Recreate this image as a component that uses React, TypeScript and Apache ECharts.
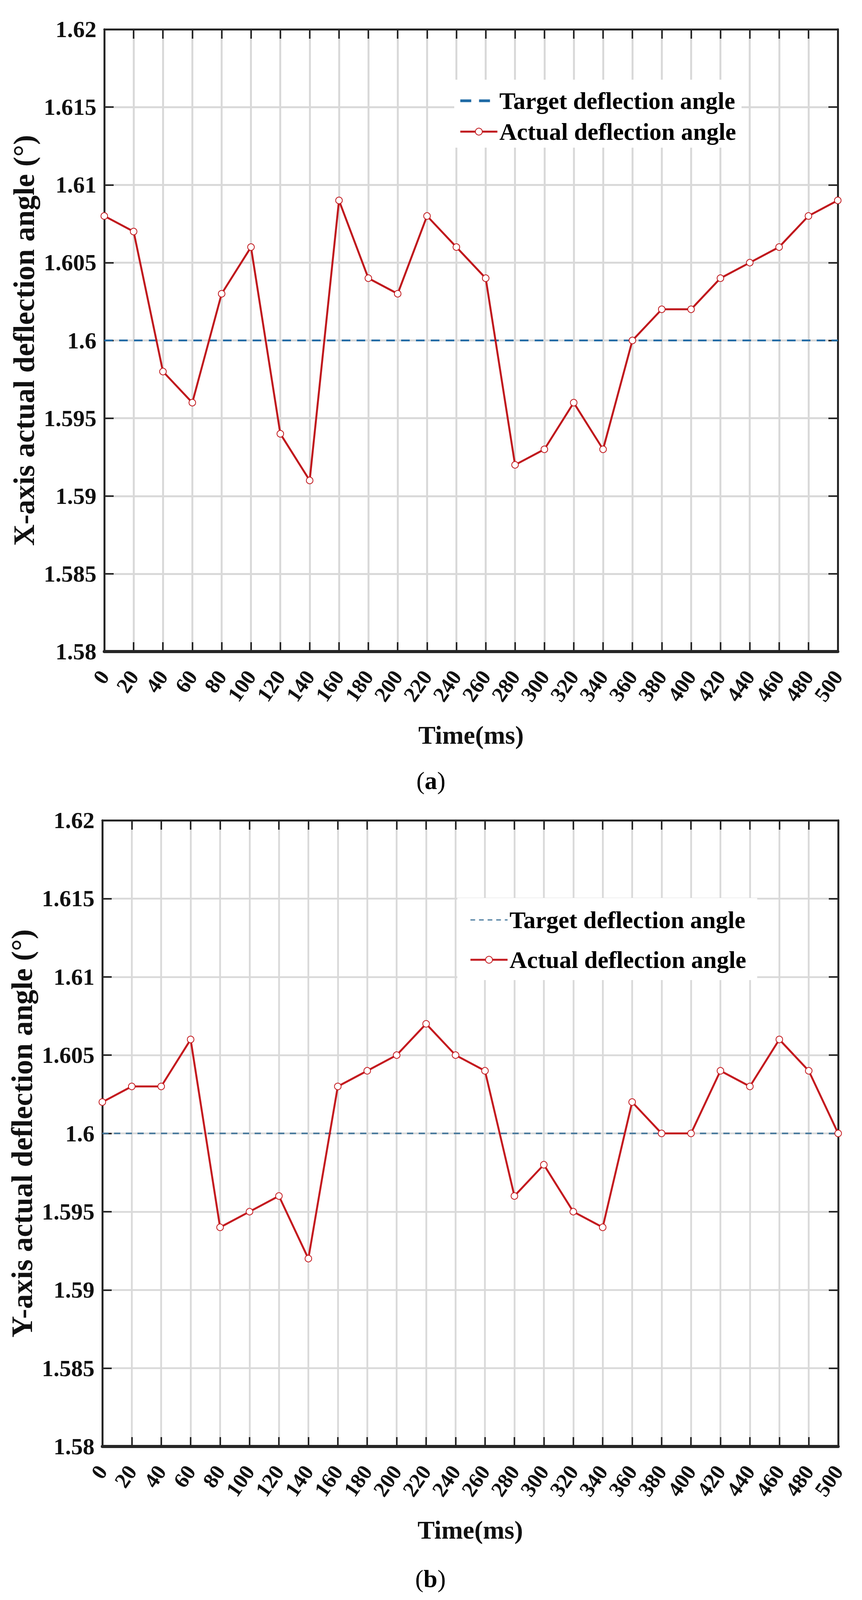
import React, { useEffect, useRef } from "react";
import * as echarts from "echarts";

const timeMs = [0, 20, 40, 60, 80, 100, 120, 140, 160, 180, 200, 220, 240, 260, 280, 300, 320, 340, 360, 380, 400, 420, 440, 460, 480, 500];
const xAxisActual = [1.608, 1.607, 1.598, 1.596, 1.603, 1.606, 1.594, 1.591, 1.609, 1.604, 1.603, 1.608, 1.606, 1.604, 1.592, 1.593, 1.596, 1.593, 1.6, 1.602, 1.602, 1.604, 1.605, 1.606, 1.608, 1.609];
const yAxisActual = [1.602, 1.603, 1.603, 1.606, 1.594, 1.595, 1.596, 1.592, 1.603, 1.604, 1.605, 1.607, 1.605, 1.604, 1.596, 1.598, 1.595, 1.594, 1.602, 1.6, 1.6, 1.604, 1.603, 1.606, 1.604, 1.6];
const targetAngle = [1.6, 1.6, 1.6, 1.6, 1.6, 1.6, 1.6, 1.6, 1.6, 1.6, 1.6, 1.6, 1.6, 1.6, 1.6, 1.6, 1.6, 1.6, 1.6, 1.6, 1.6, 1.6, 1.6, 1.6, 1.6, 1.6];
const seriesNames = ["Target deflection angle", "Actual deflection angle"];
const yTitles = ["X-axis actual deflection angle (°)", "Y-axis actual deflection angle (°)"];
const xTitle = "Time(ms)";
const captions = ["a", "b"];

const FONT = "'Liberation Serif', 'Times New Roman', serif";
const AXIS_COLOR = "#262626";

type Cfg = {
  yTitle: string;
  actual: number[];
  caption: string;
  grid: { left: number; top: number; width: number; height: number };
  legend: { left: number; top: number; padding: number[]; itemGap: number };
  targetColor: string;
  targetWidth: number;
  targetDash: number[];
  legendDash: number[];
  legendDashWidth: number;
  redColor: string;
  redWidth: number;
  gridWidth: number;
  captionY: number;
  captionX: number;
};

function buildOption(c: Cfg): any {
  const pairs = (arr: number[]) => timeMs.map((t, i) => [t, arr[i]]);
  const fmtY = (v: number) => String(+v.toFixed(3));
  const splitLine = { show: true, lineStyle: { color: "#d9d9d9", width: c.gridWidth } };
  const tick = { show: true, inside: true, length: 24, lineStyle: { color: AXIS_COLOR, width: 4 } };
  return {
    animation: false,
    backgroundColor: "#ffffff",
    grid: { ...c.grid, containLabel: false },
    legend: {
      data: [
        {
          name: seriesNames[0],
          itemStyle: { opacity: 0 },
          lineStyle: { width: c.legendDashWidth, type: c.legendDash, color: c.targetColor },
        },
        { name: seriesNames[1], lineStyle: { width: 5, color: c.redColor } },
      ],
      orient: "vertical",
      left: c.legend.left,
      top: c.legend.top,
      padding: c.legend.padding,
      itemGap: c.legend.itemGap,
      backgroundColor: "#ffffff",
      itemWidth: 95,
      itemHeight: 22,
      textStyle: { fontFamily: FONT, fontSize: 62, fontWeight: "bold", color: "#000", lineHeight: 62 },
      selectedMode: false,
    },
    xAxis: [
      {
        type: "value",
        min: 0,
        max: 500,
        interval: 20,
        position: "bottom",
        axisLine: { onZero: false, lineStyle: { color: AXIS_COLOR, width: 8 } },
        axisTick: tick,
        axisLabel: {
          rotate: 55,
          margin: 54,
          fontFamily: FONT,
          fontSize: 55,
          fontWeight: "bold",
          color: "#111",
          showMinLabel: true,
          showMaxLabel: true,
          hideOverlap: false,
        },
        splitLine,
        name: xTitle,
        nameLocation: "middle",
        nameGap: 180,
        nameTextStyle: { fontFamily: FONT, fontSize: 66, fontWeight: "bold", color: "#111" },
      },
      {
        type: "value",
        min: 0,
        max: 500,
        interval: 20,
        position: "top",
        axisLine: { onZero: false, lineStyle: { color: AXIS_COLOR, width: 5 } },
        axisTick: tick,
        axisLabel: { show: false },
        splitLine: { show: false },
      },
    ],
    yAxis: [
      {
        type: "value",
        min: 1.58,
        max: 1.62,
        interval: 0.005,
        position: "left",
        axisLine: { show: true, onZero: false, lineStyle: { color: AXIS_COLOR, width: 5 } },
        axisTick: tick,
        axisLabel: {
          margin: 20,
          fontFamily: FONT,
          fontSize: 60,
          fontWeight: "bold",
          color: "#111",
          formatter: fmtY,
          showMinLabel: true,
          showMaxLabel: true,
        },
        splitLine,
        name: c.yTitle,
        nameLocation: "middle",
        nameGap: 168,
        nameRotate: 90,
        nameTextStyle: { fontFamily: FONT, fontSize: 76, fontWeight: "bold", color: "#111" },
      },
      {
        type: "value",
        min: 1.58,
        max: 1.62,
        interval: 0.005,
        position: "right",
        axisLine: { show: true, onZero: false, lineStyle: { color: AXIS_COLOR, width: 5 } },
        axisTick: tick,
        axisLabel: { show: false },
        splitLine: { show: false },
      },
    ],
    series: [
      {
        name: seriesNames[0],
        type: "line",
        xAxisIndex: 0,
        yAxisIndex: 0,
        data: pairs(targetAngle),
        symbol: "none",
        lineStyle: { color: c.targetColor, width: c.targetWidth, type: c.targetDash },
        itemStyle: { color: c.targetColor },
        z: 2,
      },
      {
        name: seriesNames[1],
        type: "line",
        xAxisIndex: 0,
        yAxisIndex: 0,
        data: pairs(c.actual),
        symbol: "emptyCircle",
        symbolSize: 17,
        lineStyle: { color: c.redColor, width: c.redWidth },
        itemStyle: { color: c.redColor, borderWidth: 4.5 },
        z: 3,
      },
    ],
    graphic: [
      {
        type: "text",
        left: c.captionX - 35,
        top: c.captionY - 32,
        style: {
          text: "{n|(}{b|" + c.caption + "}{n|)}",
          rich: {
            n: { fontFamily: FONT, fontSize: 64, color: "#000" },
            b: { fontFamily: FONT, fontSize: 64, fontWeight: "bold", color: "#000" },
          },
        },
      },
    ],
  };
}

function Chart({ cfg, height }: { cfg: Cfg; height: number }) {
  const ref = useRef<HTMLDivElement>(null);
  useEffect(() => {
    if (!ref.current) return;
    const chart = echarts.init(ref.current, undefined, { renderer: "svg" });
    chart.setOption(buildOption(cfg));
    return () => chart.dispose();
  }, []);
  return <div ref={ref} style={{ width: 2207, height }} />;
}

const cfgA: Cfg = {
  yTitle: yTitles[0],
  actual: xAxisActual,
  caption: captions[0],
  grid: { left: 267, top: 75, width: 1878, height: 1593 },
  legend: { left: 1163, top: 204, padding: [23, 14, 10, 12], itemGap: 17 },
  targetColor: "#1f6aa5",
  targetWidth: 4.5,
  targetDash: [22, 16],
  legendDash: [28, 20],
  legendDashWidth: 7,
  redColor: "#c0181d",
  redWidth: 5,
  gridWidth: 5,
  captionY: 1998,
  captionX: 1101,
};

const cfgB: Cfg = {
  yTitle: yTitles[1],
  actual: yAxisActual,
  caption: captions[1],
  grid: { left: 262, top: 50, width: 1884, height: 1603 },
  legend: { left: 1171, top: 249, padding: [25, 28, 21, 31], itemGap: 40 },
  targetColor: "#44779b",
  targetWidth: 4,
  targetDash: [16, 14],
  legendDash: [12, 10],
  legendDashWidth: 3,
  redColor: "#c41a1f",
  redWidth: 5,
  gridWidth: 4.5,
  captionY: 1991,
  captionX: 1098,
};

export default function App() {
  useEffect(() => {
    document.body.style.margin = "0";
  }, []);
  return (
    <div style={{ width: 2207, height: 4102, background: "#fff" }}>
      <Chart cfg={cfgA} height={2050} />
      <Chart cfg={cfgB} height={2052} />
    </div>
  );
}
